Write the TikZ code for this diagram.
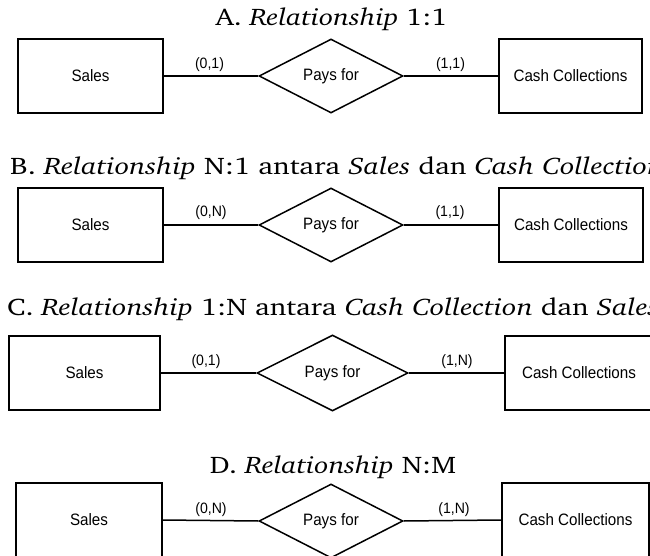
\documentclass[tikz,border=0pt]{standalone}
\usepackage[T1]{fontenc}
\usepackage{graphicx}
\usepackage{fontspec}
\setsansfont{Liberation Sans}
\usetikzlibrary{shapes.geometric}
\IfFileExists{t1bch.fd}{\newcommand\ttlfont{\fontencoding{T1}\fontfamily{bch}\selectfont}}{\newcommand\ttlfont{\rmfamily}}
\newcommand\ttl[2][1.19]{\scalebox{#1}[1]{\ttlfont\fontsize{24}{28}\selectfont #2}}
\newcommand\boxtxt[1]{\scalebox{0.92}[1]{\sffamily\fontsize{16.5}{19}\selectfont #1}}
\newcommand\cardtxt[1]{\scalebox{0.94}[1]{\sffamily\fontsize{15}{18}\selectfont #1}}
\begin{document}
\begin{tikzpicture}[x=1pt,y=-1pt,
  entity/.style={draw, line width=1.5pt, rectangle, minimum width=145pt, minimum height=74pt, inner sep=0pt},
  rel/.style={draw, diamond, line width=1.5pt, minimum width=144pt, minimum height=74pt, inner sep=0pt},
  card/.style={inner sep=0pt},
  ttlnode/.style={inner sep=0pt, anchor=base},
  conn/.style={line width=1.5pt}]
\useasboundingbox (0,0) rectangle (650,556);
\clip (0,0) rectangle (650,556);
% A
\node[ttlnode] (tA) at (331.5,26) {\ttl{A. \textit{Relationship} 1:1}};
\node[entity] (sA) at (90.5,76) {\boxtxt{Sales}};
\node[rel] (dA) at (331,76) {\boxtxt{Pays for}};
\node[entity, minimum width=143pt] (cA) at (570.5,76) {\boxtxt{Cash Collections}};
\draw[conn] (sA.east) -- (dA.west);
\draw[conn] (dA.east) -- (cA.west);
\node[card] (lA1) at (209.5,65) {\cardtxt{(0,1)}};
\node[card] (lA2) at (450.5,65) {\cardtxt{(1,1)}};
% B
\node[ttlnode, anchor=base west] (tB) at (10,175) {\ttl[1.215]{B. \textit{Relationship} N:1 antara \textit{Sales} dan \textit{Cash Collections}}};
\node[entity] (sB) at (90.5,225) {\boxtxt{Sales}};
\node[rel] (dB) at (331,225) {\boxtxt{Pays for}};
\node[entity, minimum width=144pt] (cB) at (571,225) {\boxtxt{Cash Collections}};
\draw[conn] (sB.east) -- (dB.west);
\draw[conn] (dB.east) -- (cB.west);
\node[card] (lB1) at (211,213) {\cardtxt{(0,N)}};
\node[card] (lB2) at (450,213) {\cardtxt{(1,1)}};
% C
\node[ttlnode, anchor=base west] (tC) at (7,315) {\ttl[1.21]{C. \textit{Relationship} 1:N antara \textit{Cash Collection} dan \textit{Sales}}};
\node[entity, minimum width=151pt] (sC) at (84.5,373) {\boxtxt{Sales}};
\node[rel, minimum width=151pt, minimum height=76pt] (dC) at (332.5,373) {\boxtxt{Pays for}};
\node[entity, minimum width=148pt] (cC) at (579,373) {\boxtxt{Cash Collections}};
\draw[conn] (sC.east) -- (dC.west);
\draw[conn] (dC.east) -- (cC.west);
\node[card] (lC1) at (206,362) {\cardtxt{(0,1)}};
\node[card] (lC2) at (457,362) {\cardtxt{(1,N)}};
% D
\node[ttlnode] (tD) at (333,473) {\ttl{D. \textit{Relationship} N:M}};
\node[entity, minimum width=146pt] (sD) at (89,520) {\boxtxt{Sales}};
\node[rel] (dD) at (331,521) {\boxtxt{Pays for}};
\node[entity, minimum width=147pt] (cD) at (575.5,520) {\boxtxt{Cash Collections}};
\draw[conn] (sD.east) -- (dD.west);
\draw[conn] (dD.east) -- (cD.west);
\node[card] (lD1) at (211,510) {\cardtxt{(0,N)}};
\node[card] (lD2) at (454,510) {\cardtxt{(1,N)}};
\end{tikzpicture}
\end{document}
